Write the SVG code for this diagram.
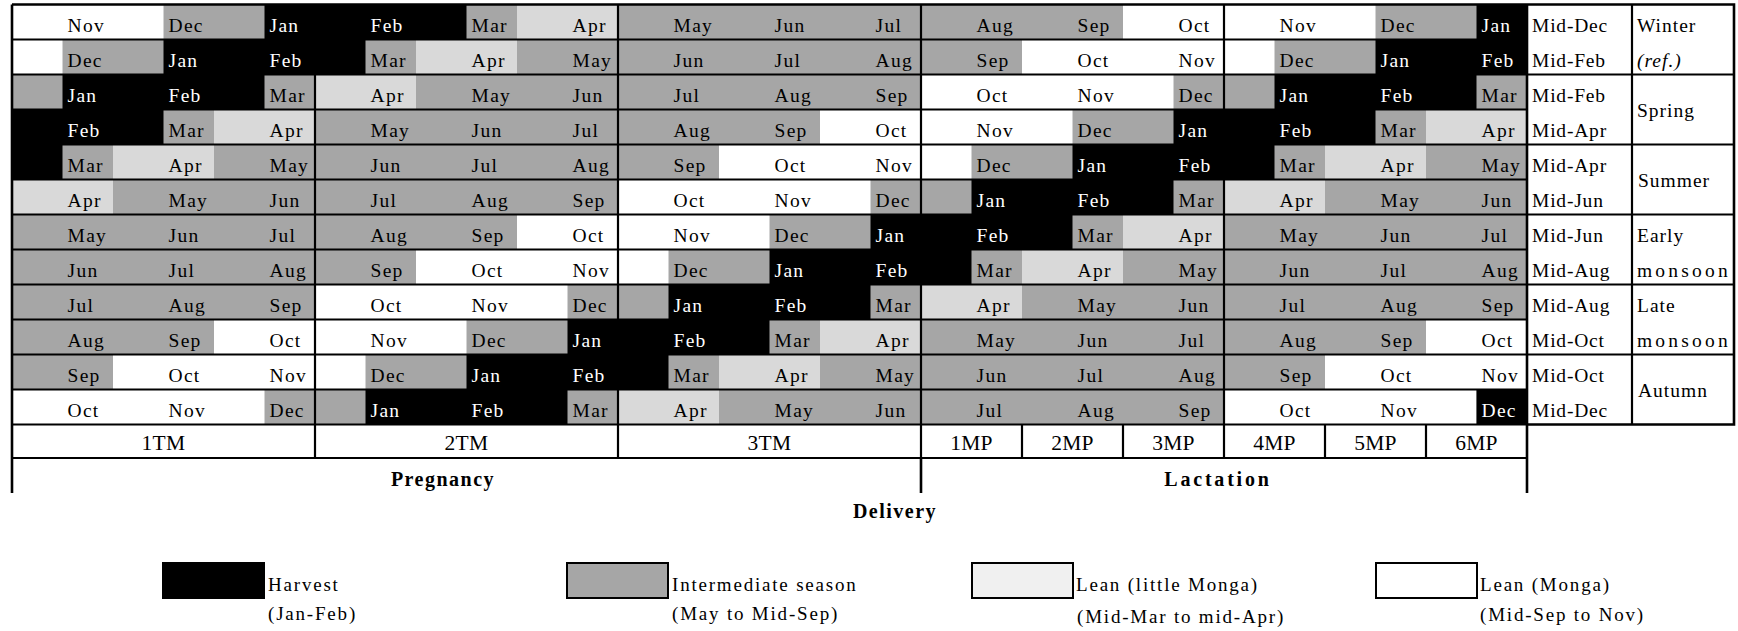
<svg xmlns="http://www.w3.org/2000/svg" width="1738" height="631" viewBox="0 0 1738 631" font-family="Liberation Serif">
<style>
text{font-family:'Liberation Serif',serif;font-size:19.5px;letter-spacing:1.3px;fill:#000}
.w{fill:#fff}
.bd{font-weight:bold;font-size:20px;letter-spacing:1.5px;text-anchor:middle}
.tm{font-size:21.5px;letter-spacing:0.3px;text-anchor:middle}
.it{font-style:italic}
.mid{letter-spacing:0.8px}
.ss{letter-spacing:1px}
.ms{letter-spacing:3.2px}
.lg{font-size:19px;letter-spacing:1.8px}
.G{fill:#a6a6a6}.B{fill:#000}.L{fill:#d9d9d9}.W{fill:#fff}
.ln{stroke:#000;stroke-width:2.2;fill:none}
.ol{stroke:#000;stroke-width:2.6;fill:none}
</style>
<rect width="1738" height="631" fill="#fff"/>
<g id="cells">
<g id="row-1">
<rect class="G" x="12" y="4.5" width="1515" height="35"/>
<rect class="W" x="12" y="4.5" width="151.5" height="35"/>
<rect class="B" x="264.5" y="4.5" width="202" height="35"/>
<rect class="L" x="517" y="4.5" width="101" height="35"/>
<rect class="W" x="1123" y="4.5" width="252.5" height="35"/>
<rect class="B" x="1476.5" y="4.5" width="50.5" height="35"/>
</g>
<g id="row-2">
<rect class="G" x="12" y="39.5" width="1515" height="35"/>
<rect class="W" x="12" y="39.5" width="50.5" height="35"/>
<rect class="B" x="163.5" y="39.5" width="202" height="35"/>
<rect class="L" x="416" y="39.5" width="101" height="35"/>
<rect class="W" x="1022" y="39.5" width="252.5" height="35"/>
<rect class="B" x="1375.5" y="39.5" width="151.5" height="35"/>
</g>
<g id="row-3">
<rect class="G" x="12" y="74.5" width="1515" height="35"/>
<rect class="B" x="62.5" y="74.5" width="202" height="35"/>
<rect class="L" x="315" y="74.5" width="101" height="35"/>
<rect class="W" x="921" y="74.5" width="252.5" height="35"/>
<rect class="B" x="1274.5" y="74.5" width="202" height="35"/>
</g>
<g id="row-4">
<rect class="G" x="12" y="109.5" width="1515" height="35"/>
<rect class="B" x="12" y="109.5" width="151.5" height="35"/>
<rect class="L" x="214" y="109.5" width="101" height="35"/>
<rect class="W" x="820" y="109.5" width="252.5" height="35"/>
<rect class="B" x="1173.5" y="109.5" width="202" height="35"/>
<rect class="L" x="1426" y="109.5" width="101" height="35"/>
</g>
<g id="row-5">
<rect class="G" x="12" y="144.5" width="1515" height="35"/>
<rect class="B" x="12" y="144.5" width="50.5" height="35"/>
<rect class="L" x="113" y="144.5" width="101" height="35"/>
<rect class="W" x="719" y="144.5" width="252.5" height="35"/>
<rect class="B" x="1072.5" y="144.5" width="202" height="35"/>
<rect class="L" x="1325" y="144.5" width="101" height="35"/>
</g>
<g id="row-6">
<rect class="G" x="12" y="179.5" width="1515" height="35"/>
<rect class="L" x="12" y="179.5" width="101" height="35"/>
<rect class="W" x="618" y="179.5" width="252.5" height="35"/>
<rect class="B" x="971.5" y="179.5" width="202" height="35"/>
<rect class="L" x="1224" y="179.5" width="101" height="35"/>
</g>
<g id="row-7">
<rect class="G" x="12" y="214.5" width="1515" height="35"/>
<rect class="W" x="517" y="214.5" width="252.5" height="35"/>
<rect class="B" x="870.5" y="214.5" width="202" height="35"/>
<rect class="L" x="1123" y="214.5" width="101" height="35"/>
</g>
<g id="row-8">
<rect class="G" x="12" y="249.5" width="1515" height="35"/>
<rect class="W" x="416" y="249.5" width="252.5" height="35"/>
<rect class="B" x="769.5" y="249.5" width="202" height="35"/>
<rect class="L" x="1022" y="249.5" width="101" height="35"/>
</g>
<g id="row-9">
<rect class="G" x="12" y="284.5" width="1515" height="35"/>
<rect class="W" x="315" y="284.5" width="252.5" height="35"/>
<rect class="B" x="668.5" y="284.5" width="202" height="35"/>
<rect class="L" x="921" y="284.5" width="101" height="35"/>
</g>
<g id="row-10">
<rect class="G" x="12" y="319.5" width="1515" height="35"/>
<rect class="W" x="214" y="319.5" width="252.5" height="35"/>
<rect class="B" x="567.5" y="319.5" width="202" height="35"/>
<rect class="L" x="820" y="319.5" width="101" height="35"/>
<rect class="W" x="1426" y="319.5" width="101" height="35"/>
</g>
<g id="row-11">
<rect class="G" x="12" y="354.5" width="1515" height="35"/>
<rect class="W" x="113" y="354.5" width="252.5" height="35"/>
<rect class="B" x="466.5" y="354.5" width="202" height="35"/>
<rect class="L" x="719" y="354.5" width="101" height="35"/>
<rect class="W" x="1325" y="354.5" width="202" height="35"/>
</g>
<g id="row-12">
<rect class="G" x="12" y="389.5" width="1515" height="35"/>
<rect class="W" x="12" y="389.5" width="252.5" height="35"/>
<rect class="B" x="365.5" y="389.5" width="202" height="35"/>
<rect class="L" x="618" y="389.5" width="101" height="35"/>
<rect class="W" x="1224" y="389.5" width="252.5" height="35"/>
<rect class="B" x="1476.5" y="389.5" width="50.5" height="35"/>
</g>
</g>
<g id="connectors">
<path class="ol" d="M12 4.5H1734V424.5H1527M12 4.5V493M1527 4.5V493M1734 4.5V424.5M921 458V493"/>
<path class="ln" d="M12 39.5H1527M12 74.5H1734M12 109.5H1527M12 144.5H1734M12 179.5H1527M12 214.5H1734M12 249.5H1527M12 284.5H1734M12 319.5H1527M12 354.5H1734M12 389.5H1527M12 424.5H1527M12 458H1527"/>
<path class="ln" d="M315 4.5V458M618 4.5V458M921 4.5V458M1224 4.5V458M1632 4.5V424.5M1022 424.5V458M1123 424.5V458M1325 424.5V458M1426 424.5V458"/>
</g>
<g id="month-labels" font-family="Liberation Serif">
<g transform="translate(0,31.5)"><text x="67.5">Nov</text><text x="168.5">Dec</text><text class="w" x="269.5">Jan</text><text class="w" x="370.5">Feb</text><text x="471.5">Mar</text><text x="572.5">Apr</text><text x="673.5">May</text><text x="774.5">Jun</text><text x="875.5">Jul</text><text x="976.5">Aug</text><text x="1077.5">Sep</text><text x="1178.5">Oct</text><text x="1279.5">Nov</text><text x="1380.5">Dec</text><text class="w" x="1481.5">Jan</text></g>
<g transform="translate(0,66.5)"><text x="67.5">Dec</text><text class="w" x="168.5">Jan</text><text class="w" x="269.5">Feb</text><text x="370.5">Mar</text><text x="471.5">Apr</text><text x="572.5">May</text><text x="673.5">Jun</text><text x="774.5">Jul</text><text x="875.5">Aug</text><text x="976.5">Sep</text><text x="1077.5">Oct</text><text x="1178.5">Nov</text><text x="1279.5">Dec</text><text class="w" x="1380.5">Jan</text><text class="w" x="1481.5">Feb</text></g>
<g transform="translate(0,101.5)"><text class="w" x="67.5">Jan</text><text class="w" x="168.5">Feb</text><text x="269.5">Mar</text><text x="370.5">Apr</text><text x="471.5">May</text><text x="572.5">Jun</text><text x="673.5">Jul</text><text x="774.5">Aug</text><text x="875.5">Sep</text><text x="976.5">Oct</text><text x="1077.5">Nov</text><text x="1178.5">Dec</text><text class="w" x="1279.5">Jan</text><text class="w" x="1380.5">Feb</text><text x="1481.5">Mar</text></g>
<g transform="translate(0,136.5)"><text class="w" x="67.5">Feb</text><text x="168.5">Mar</text><text x="269.5">Apr</text><text x="370.5">May</text><text x="471.5">Jun</text><text x="572.5">Jul</text><text x="673.5">Aug</text><text x="774.5">Sep</text><text x="875.5">Oct</text><text x="976.5">Nov</text><text x="1077.5">Dec</text><text class="w" x="1178.5">Jan</text><text class="w" x="1279.5">Feb</text><text x="1380.5">Mar</text><text x="1481.5">Apr</text></g>
<g transform="translate(0,171.5)"><text x="67.5">Mar</text><text x="168.5">Apr</text><text x="269.5">May</text><text x="370.5">Jun</text><text x="471.5">Jul</text><text x="572.5">Aug</text><text x="673.5">Sep</text><text x="774.5">Oct</text><text x="875.5">Nov</text><text x="976.5">Dec</text><text class="w" x="1077.5">Jan</text><text class="w" x="1178.5">Feb</text><text x="1279.5">Mar</text><text x="1380.5">Apr</text><text x="1481.5">May</text></g>
<g transform="translate(0,206.5)"><text x="67.5">Apr</text><text x="168.5">May</text><text x="269.5">Jun</text><text x="370.5">Jul</text><text x="471.5">Aug</text><text x="572.5">Sep</text><text x="673.5">Oct</text><text x="774.5">Nov</text><text x="875.5">Dec</text><text class="w" x="976.5">Jan</text><text class="w" x="1077.5">Feb</text><text x="1178.5">Mar</text><text x="1279.5">Apr</text><text x="1380.5">May</text><text x="1481.5">Jun</text></g>
<g transform="translate(0,241.5)"><text x="67.5">May</text><text x="168.5">Jun</text><text x="269.5">Jul</text><text x="370.5">Aug</text><text x="471.5">Sep</text><text x="572.5">Oct</text><text x="673.5">Nov</text><text x="774.5">Dec</text><text class="w" x="875.5">Jan</text><text class="w" x="976.5">Feb</text><text x="1077.5">Mar</text><text x="1178.5">Apr</text><text x="1279.5">May</text><text x="1380.5">Jun</text><text x="1481.5">Jul</text></g>
<g transform="translate(0,276.5)"><text x="67.5">Jun</text><text x="168.5">Jul</text><text x="269.5">Aug</text><text x="370.5">Sep</text><text x="471.5">Oct</text><text x="572.5">Nov</text><text x="673.5">Dec</text><text class="w" x="774.5">Jan</text><text class="w" x="875.5">Feb</text><text x="976.5">Mar</text><text x="1077.5">Apr</text><text x="1178.5">May</text><text x="1279.5">Jun</text><text x="1380.5">Jul</text><text x="1481.5">Aug</text></g>
<g transform="translate(0,311.5)"><text x="67.5">Jul</text><text x="168.5">Aug</text><text x="269.5">Sep</text><text x="370.5">Oct</text><text x="471.5">Nov</text><text x="572.5">Dec</text><text class="w" x="673.5">Jan</text><text class="w" x="774.5">Feb</text><text x="875.5">Mar</text><text x="976.5">Apr</text><text x="1077.5">May</text><text x="1178.5">Jun</text><text x="1279.5">Jul</text><text x="1380.5">Aug</text><text x="1481.5">Sep</text></g>
<g transform="translate(0,346.5)"><text x="67.5">Aug</text><text x="168.5">Sep</text><text x="269.5">Oct</text><text x="370.5">Nov</text><text x="471.5">Dec</text><text class="w" x="572.5">Jan</text><text class="w" x="673.5">Feb</text><text x="774.5">Mar</text><text x="875.5">Apr</text><text x="976.5">May</text><text x="1077.5">Jun</text><text x="1178.5">Jul</text><text x="1279.5">Aug</text><text x="1380.5">Sep</text><text x="1481.5">Oct</text></g>
<g transform="translate(0,381.5)"><text x="67.5">Sep</text><text x="168.5">Oct</text><text x="269.5">Nov</text><text x="370.5">Dec</text><text class="w" x="471.5">Jan</text><text class="w" x="572.5">Feb</text><text x="673.5">Mar</text><text x="774.5">Apr</text><text x="875.5">May</text><text x="976.5">Jun</text><text x="1077.5">Jul</text><text x="1178.5">Aug</text><text x="1279.5">Sep</text><text x="1380.5">Oct</text><text x="1481.5">Nov</text></g>
<g transform="translate(0,416.5)"><text x="67.5">Oct</text><text x="168.5">Nov</text><text x="269.5">Dec</text><text class="w" x="370.5">Jan</text><text class="w" x="471.5">Feb</text><text x="572.5">Mar</text><text x="673.5">Apr</text><text x="774.5">May</text><text x="875.5">Jun</text><text x="976.5">Jul</text><text x="1077.5">Aug</text><text x="1178.5">Sep</text><text x="1279.5">Oct</text><text x="1380.5">Nov</text><text class="w" x="1481.5">Dec</text></g>
</g>
<g id="conception-labels" font-family="Liberation Serif">
<text class="mid" x="1532" y="31.5">Mid-Dec</text>
<text class="mid" x="1532" y="66.5">Mid-Feb</text>
<text class="mid" x="1532" y="101.5">Mid-Feb</text>
<text class="mid" x="1532" y="136.5">Mid-Apr</text>
<text class="mid" x="1532" y="171.5">Mid-Apr</text>
<text class="mid" x="1532" y="206.5">Mid-Jun</text>
<text class="mid" x="1532" y="241.5">Mid-Jun</text>
<text class="mid" x="1532" y="276.5">Mid-Aug</text>
<text class="mid" x="1532" y="311.5">Mid-Aug</text>
<text class="mid" x="1532" y="346.5">Mid-Oct</text>
<text class="mid" x="1532" y="381.5">Mid-Oct</text>
<text class="mid" x="1532" y="416.5">Mid-Dec</text>
</g>
<g id="season-labels" font-family="Liberation Serif">
<text class="ss" x="1637" y="31.5">Winter</text>
<text class="ss it" x="1637" y="66.5">(ref.)</text>
<text class="ss" x="1637" y="117">Spring</text>
<text class="ss" x="1638" y="187">Summer</text>
<text class="ss" x="1637" y="241.5">Early</text>
<text class="ms" x="1637" y="276.5">monsoon</text>
<text class="ss" x="1637" y="311.5">Late</text>
<text class="ms" x="1637" y="346.5">monsoon</text>
<text class="ss" x="1638" y="397">Autumn</text>
</g>
<g id="periods" font-family="Liberation Serif">
<text class="tm" x="163.5" y="450">1TM</text>
<text class="tm" x="466.5" y="450">2TM</text>
<text class="tm" x="769.5" y="450">3TM</text>
<text class="tm" x="971.5" y="450">1MP</text>
<text class="tm" x="1072.5" y="450">2MP</text>
<text class="tm" x="1173.5" y="450">3MP</text>
<text class="tm" x="1274.5" y="450">4MP</text>
<text class="tm" x="1375.5" y="450">5MP</text>
<text class="tm" x="1476.5" y="450">6MP</text>
<text class="bd" x="443" y="486">Pregnancy</text>
<text class="bd" x="1218" y="486" style="letter-spacing:2.8px">Lactation</text>
<text class="bd" x="895" y="518">Delivery</text>
</g>
<g id="legend" font-family="Liberation Serif">
<g id="legend-harvest"><rect x="162" y="562" width="103" height="37" fill="#000"/><text class="lg" x="268" y="591">Harvest</text><text class="lg" x="268" y="620">(Jan-Feb)</text></g>
<g id="legend-intermediate"><rect x="567" y="563" width="101" height="35" fill="#a6a6a6" stroke="#000" stroke-width="2"/><text class="lg" x="672" y="591">Intermediate season</text><text class="lg" x="672" y="620">(May to Mid-Sep)</text></g>
<g id="legend-little-monga"><rect x="972" y="563" width="101" height="35" fill="#f0f0f0" stroke="#000" stroke-width="2"/><text class="lg" x="1076" y="591">Lean (little Monga)</text><text class="lg" x="1077" y="623">(Mid-Mar to mid-Apr)</text></g>
<g id="legend-monga"><rect x="1376" y="563" width="101" height="35" fill="#fff" stroke="#000" stroke-width="2"/><text class="lg" x="1480" y="591">Lean (Monga)</text><text class="lg" x="1480" y="621">(Mid-Sep to Nov)</text></g>
</g>
</svg>
